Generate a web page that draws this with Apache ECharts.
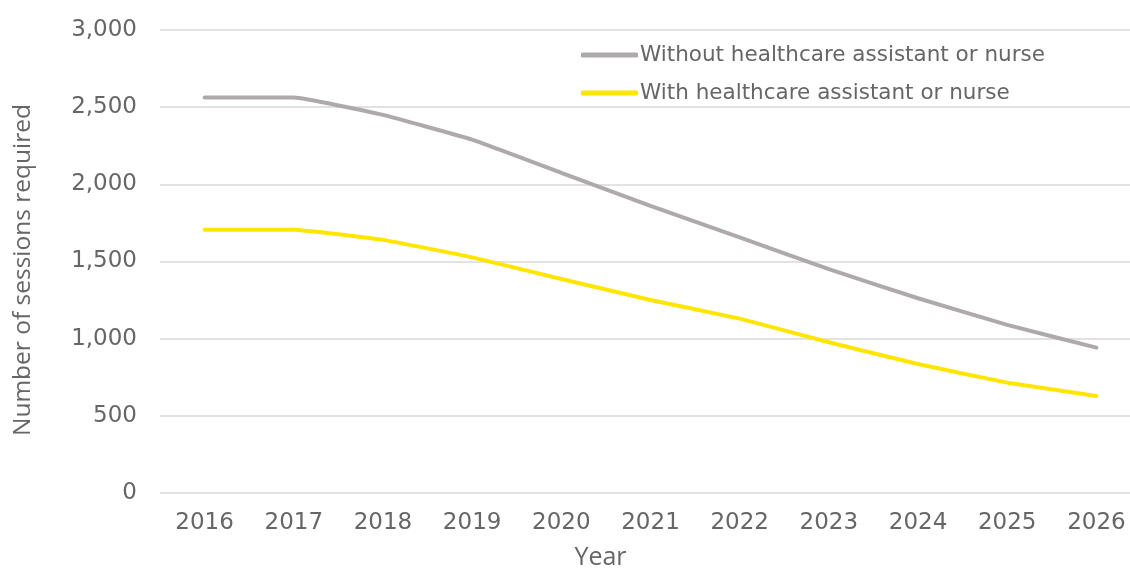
<!DOCTYPE html>
<html>
<head>
<meta charset="utf-8">
<script src="https://cdn.jsdelivr.net/npm/echarts@6/dist/echarts.min.js"></script>
<style>
  html, body { margin: 0; padding: 0; background: #fff; }
  #chart { width: 1130px; height: 568px; }
</style>
</head>
<body>
<div id="chart"></div>
<script>
const years = ['2016', '2017', '2018', '2019', '2020', '2021', '2022', '2023', '2024', '2025', '2026'];
const withoutHca = [2562, 2562, 2450, 2290, 2075, 1860, 1657, 1450, 1262, 1089, 942];
const withHca = [1706, 1706, 1640, 1527, 1387, 1251, 1130, 977, 836, 715, 629];
const seriesNames = ['Without healthcare assistant or nurse', 'With healthcare assistant or nurse'];

const textColor = '#666666';
const font = 'DejaVu Sans';
const titleFont = 'Open Sans';

const chart = echarts.init(document.getElementById('chart'));
chart.setOption({
  backgroundColor: '#fff',
  animation: false,
  grid: {
    left: 160,
    right: -11,
    top: 30,
    bottom: 75,
    outerBoundsMode: 'none'
  },
  legend: {
    orient: 'vertical',
    left: 576,
    top: 38,
    icon: 'roundRect',
    itemWidth: 57,
    itemHeight: 5,
    itemGap: 14,
    textStyle: { color: textColor, fontSize: 21.5, lineHeight: 24, fontFamily: font, padding: [0, 0, 0, -3] },
    data: seriesNames
  },
  xAxis: {
    type: 'category',
    data: years,
    boundaryGap: true,
    name: 'Year',
    nameLocation: 'middle',
    nameGap: 52,
    // the title sits a bit left of the axis centre in the original
    nameTextStyle: { color: textColor, fontSize: 25, fontFamily: titleFont, padding: [0, 100, 0, 0] },
    axisLine: { show: false },
    axisTick: { show: false },
    axisLabel: { color: textColor, fontSize: 23, fontFamily: font, margin: 19 }
  },
  yAxis: {
    type: 'value',
    min: 0,
    max: 3000,
    interval: 500,
    name: 'Number of sessions required',
    nameLocation: 'middle',
    nameGap: 124,
    nameTextStyle: { color: textColor, fontSize: 24.5, fontFamily: titleFont, padding: [0, 17, 0, 0] },
    axisLine: { show: false },
    axisTick: { show: false },
    axisLabel: {
      color: textColor,
      fontSize: 23,
      fontFamily: font,
      margin: 23,
      formatter: v => v.toLocaleString('en-US')
    },
    splitLine: { lineStyle: { color: '#d9d9d9', width: 1.5 } }
  },
  series: [
    {
      name: seriesNames[0],
      type: 'line',
      data: withoutHca,
      smooth: 0.1,
      symbol: 'none',
      itemStyle: { color: '#aeaaaa' },
      lineStyle: { color: '#aeaaaa', width: 4, cap: 'round' }
    },
    {
      name: seriesNames[1],
      type: 'line',
      data: withHca,
      smooth: 0.1,
      symbol: 'none',
      itemStyle: { color: '#ffe600' },
      lineStyle: { color: '#ffe600', width: 4, cap: 'round' }
    }
  ]
});
</script>
</body>
</html>
